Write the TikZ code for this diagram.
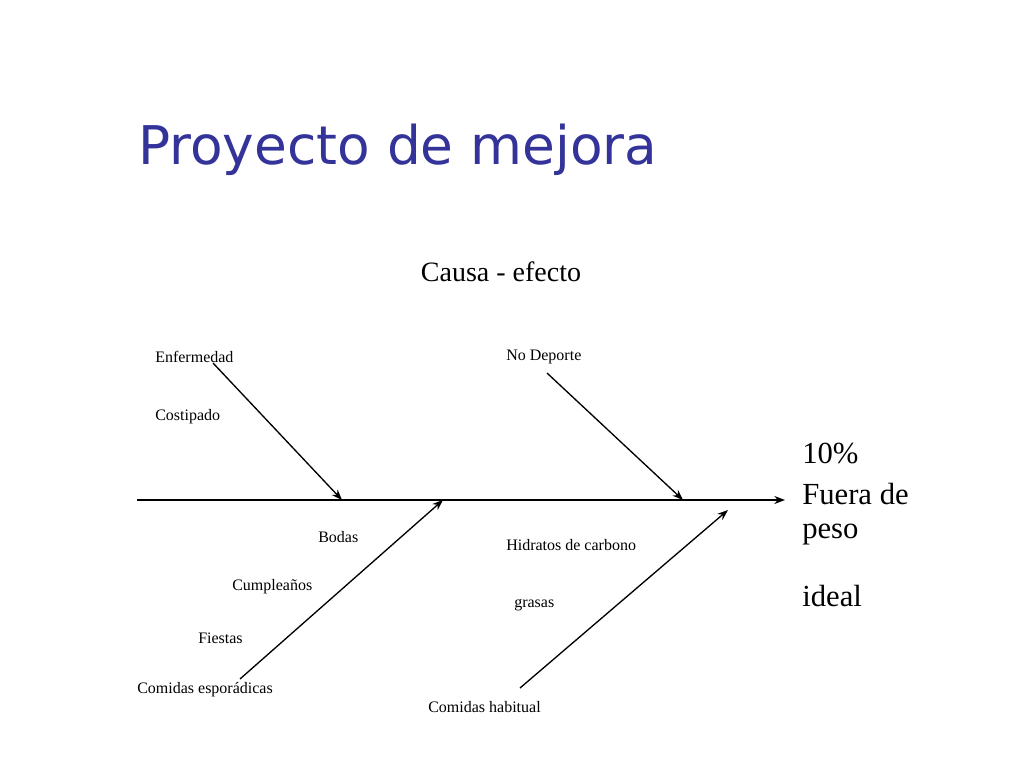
\documentclass[tikz,border=0pt]{standalone}
\usepackage{fontspec}
\setmainfont{Liberation Serif}
\newfontfamily\titlefont{DejaVu Sans}
\usetikzlibrary{arrows.meta}
\definecolor{titleblue}{RGB}{51,51,153}
\begin{document}
\begin{tikzpicture}[x=0.75pt,y=-0.75pt,
  bone/.style={line width=1pt,-{Stealth[length=8pt,width=6pt]}},
  lbl/.style={font=\fontsize{12}{14}\selectfont,inner sep=0pt},
  big/.style={font=\fontsize{23}{27}\selectfont,inner sep=0pt,anchor=west}]
\useasboundingbox (0,0) rectangle (1024,768);
\node[anchor=west,inner sep=0pt,text=titleblue,font=\titlefont\fontsize{40}{46}\selectfont] (title) at (138,150) {Proyecto de mejora};
\node[font=\fontsize{21}{25}\selectfont,inner sep=0pt] (ce) at (501,272) {Causa - efecto};
\coordinate (s0) at (137,500);
\coordinate (s1) at (785,500);
\draw[bone] (s0) -- (s1);
\coordinate (a0) at (213,363); \coordinate (a1) at (342,500);
\coordinate (b0) at (547,373); \coordinate (b1) at (683,500);
\coordinate (c0) at (240,679); \coordinate (c1) at (443,500);
\coordinate (d0) at (520,688); \coordinate (d1) at (728,510);
\draw[bone] (a0) -- (a1);
\draw[bone] (b0) -- (b1);
\draw[bone] (c0) -- (c1);
\draw[bone] (d0) -- (d1);
\node[lbl,anchor=west] (l1) at (155,357) {Enfermedad};
\node[lbl,anchor=west] (l2) at (155,417) {Costipado};
\node[lbl,anchor=west] (l3) at (506,357) {No Deporte};
\node[lbl,anchor=west] (l4) at (318,537) {Bodas};
\node[lbl,anchor=west] (l5) at (232,587) {Cumpleaños};
\node[lbl,anchor=west] (l6) at (198,638) {Fiestas};
\node[lbl,anchor=west] (l7) at (137,690) {Comidas esporádicas};
\node[lbl,anchor=west] (l8) at (506,545) {Hidratos de carbono};
\node[lbl,anchor=west] (l9) at (514,605) {grasas};
\node[lbl,anchor=west] (l10) at (428,707) {Comidas habitual};
\node[big] (r1) at (802,453) {10\%};
\node[big] (r2) at (802,494) {Fuera de};
\node[big] (r3) at (802,535) {peso};
\node[big] (r4) at (802,596) {ideal};
\end{tikzpicture}
\end{document}
